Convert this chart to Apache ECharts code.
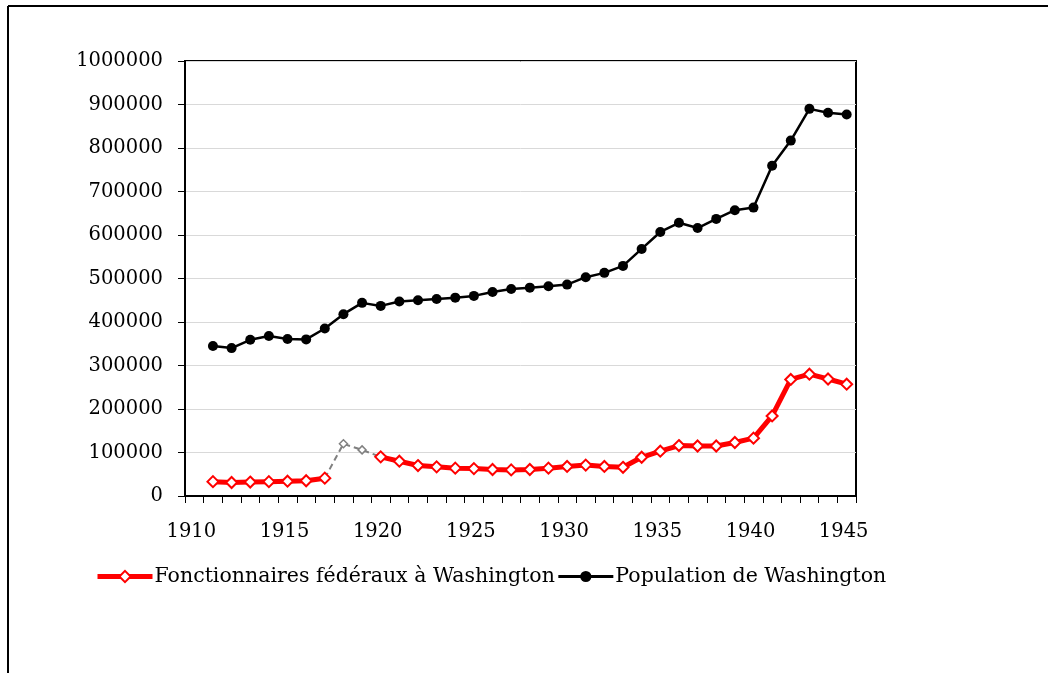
<!DOCTYPE html>
<html>
<head>
<meta charset="utf-8">
<script src="https://cdn.jsdelivr.net/npm/echarts@6/dist/echarts.min.js"></script>
<style>
  html, body { margin: 0; padding: 0; background: #fff; }
  #chart { width: 1048px; height: 673px; }
</style>
</head>
<body>
<div id="chart"></div>
<script>
// categories on the x axis (1910 slot stays empty)
const categories = ['1910', '1911', '1912', '1913', '1914', '1915', '1916', '1917', '1918', '1919',
  '1920', '1921', '1922', '1923', '1924', '1925', '1926', '1927', '1928', '1929',
  '1930', '1931', '1932', '1933', '1934', '1935', '1936', '1937', '1938', '1939',
  '1940', '1941', '1942', '1943', '1944', '1945']

// observed years
const years = ['1911', '1912', '1913', '1914', '1915', '1916', '1917', '1918', '1919', '1920',
  '1921', '1922', '1923', '1924', '1925', '1926', '1927', '1928', '1929', '1930',
  '1931', '1932', '1933', '1934', '1935', '1936', '1937', '1938', '1939', '1940',
  '1941', '1942', '1943', '1944', '1945']

// Fonctionnaires fédéraux à Washington (1918, 1919 shown as gray estimate)
const fonctionnaires = [33000, 31000, 32000, 33000, 34000, 35000, 41000, null, null, 90000,
  80000, 70000, 67000, 64000, 63000, 61000, 60000, 61000, 64000, 68000,
  71000, 68000, 66000, 89000, 103000, 116000, 115000, 115000, 123000, 133000,
  184000, 268000, 280000, 269000, 257000]

// gray dashed part between 1917 and 1920
const estimeYears = ['1917', '1918', '1919', '1920']
const estime = [41000, 120000, 106000, 90000]

// Population de Washington
const population = [345000, 340000, 359000, 368000, 361000, 360000, 385000, 418000, 444000, 437000,
  447000, 450000, 453000, 456000, 460000, 469000, 476000, 479000, 482000, 486000,
  503000, 513000, 529000, 568000, 607000, 628000, 616000, 637000, 657000, 663000,
  759000, 817000, 890000, 881000, 877000]

const yTicks = { min: 0, max: 1000000, interval: 100000 }

const font = 'DejaVu Serif'

const myChart = echarts.init(document.getElementById('chart'))

const options = {
  animation: false,
  backgroundColor: '#fff',
  textStyle: { fontFamily: font, color: '#000' },
  grid: {
    left: 185,
    top: 61,
    right: 192,
    bottom: 177,
    show: true,
    borderColor: '#000',
    borderWidth: 2
  },
  xAxis: {
    type: 'category',
    data: categories,
    boundaryGap: true,
    axisLine: { lineStyle: { color: '#000', width: 2 } },
    axisTick: { show: true, interval: 0, length: 7, lineStyle: { color: '#000', width: 1 } },
    axisLabel: {
      interval: 4,
      margin: 26,
      fontSize: 19.5,
      fontFamily: font,
      color: '#000',
      padding: [0, 6, 0, 0]
    },
    splitLine: { show: false }
  },
  yAxis: {
    type: 'value',
    min: yTicks.min,
    max: yTicks.max,
    interval: yTicks.interval,
    axisLine: { show: true, lineStyle: { color: '#000', width: 2 } },
    axisTick: { show: true, length: 7, lineStyle: { color: '#000', width: 1 } },
    axisLabel: {
      margin: 22,
      fontSize: 19.5,
      fontFamily: font,
      color: '#000',
      formatter: (v) => String(v)
    },
    splitLine: { show: true, lineStyle: { color: '#d9d9d9', width: 1 } }
  },
  legend: {
    left: 95,
    top: 566,
    padding: 0,
    itemWidth: 55,
    itemHeight: 14,
    itemGap: 2,
    data: [
      { name: 'Fonctionnaires fédéraux à Washington', lineStyle: { width: 5, color: '#ff0000' } },
      { name: 'Population de Washington', lineStyle: { width: 3, color: '#000' } }
    ],
    textStyle: { fontFamily: font, fontSize: 20.5, color: '#000', padding: [0, 0, 0, -3] }
  },
  graphic: [
    { type: 'line', shape: { x1: 8, y1: 6, x2: 1048, y2: 6 }, style: { stroke: '#000', lineWidth: 2 } },
    { type: 'line', shape: { x1: 8, y1: 6, x2: 8, y2: 673 }, style: { stroke: '#000', lineWidth: 2 } }
  ],
  series: [
    {
      name: 'estimation',
      type: 'line',
      data: estimeYears.map((y, i) => ({
        value: [y, estime[i]],
        symbol: (i === 0 || i === estime.length - 1) ? 'none' : 'diamond'
      })),
      symbolSize: 8,
      lineStyle: { color: '#808080', width: 2, type: [6, 4] },
      itemStyle: { color: '#fff', borderColor: '#808080', borderWidth: 1.5 },
      z: 1
    },
    {
      name: 'Fonctionnaires fédéraux à Washington',
      type: 'line',
      data: years.map((y, i) => [y, fonctionnaires[i]]),
      connectNulls: false,
      symbol: 'diamond',
      symbolSize: 11,
      lineStyle: { color: '#ff0000', width: 5 },
      itemStyle: { color: '#fff', borderColor: '#ff0000', borderWidth: 2 },
      z: 3
    },
    {
      name: 'Population de Washington',
      type: 'line',
      data: years.map((y, i) => [y, population[i]]),
      symbol: 'circle',
      symbolSize: 10,
      lineStyle: { color: '#000', width: 2.5 },
      itemStyle: { color: '#000', borderColor: '#000', borderWidth: 0 },
      z: 3
    }
  ]
}

myChart.setOption(options)
</script>
</body>
</html>
